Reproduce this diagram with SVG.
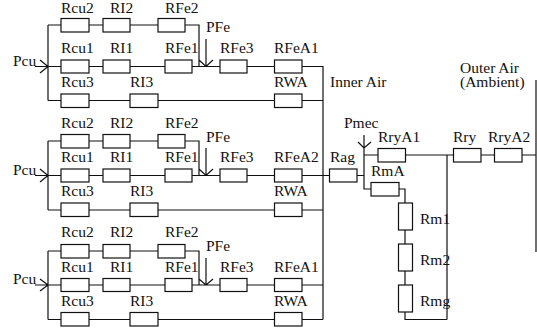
<svg xmlns="http://www.w3.org/2000/svg" width="537" height="329" viewBox="0 0 537 329">
<style>
text{font-family:"Liberation Serif","Times New Roman",serif;font-size:15.5px;fill:#111}
rect{fill:#fff;stroke:#111;stroke-width:1.2}
.w{fill:none;stroke:#111;stroke-width:1.2}
</style>
<rect x="0" y="0" width="537" height="329" style="stroke:none"/>
<g id="connectors" class="w">
<path d="M48 25V100.500M48 25H199V66.500M35 66.500H302M48 100.500H323M199 60L206 66.500L213 60M206 39V66.500M40 60L48 66.500L40 73M302 66.500H323"/>
<path d="M48 141V210M48 141H199V175.500M35 175.500H329M48 210H323M199 169L206 175.500L213 169M206 148V175.500M40 169L48 175.500L40 182"/>
<path d="M48 251V319.500M48 251H199V285M35 285H323M48 319.500H323M199 279L206 285L213 279M206 258V285M40 279L48 285L40 291"/>
<path d="M323 66V319.500M323 66V100.500M357 175.500H364M364 135V189H371M358 142L364 148L371 142M364 155H536M399 189H405V319.500H447M447 155V319.500M536 80V252"/>
</g>
<g id="block1">
<g id="b1-rcu2"><rect x="61" y="18.500" width="28" height="13.500"/><text x="61" y="12.500">Rcu2</text></g>
<g id="b1-ri2"><rect x="103" y="18.500" width="27" height="13.500"/><text x="110" y="12.500">RI2</text></g>
<g id="b1-rfe2"><rect x="158" y="18.500" width="27" height="13.500"/><text x="165" y="12.500">RFe2</text></g>
<g id="b1-rcu1"><rect x="61" y="60" width="28" height="13"/><text x="61" y="53">Rcu1</text></g>
<g id="b1-ri1"><rect x="103" y="60" width="27" height="13"/><text x="110" y="53">RI1</text></g>
<g id="b1-rfe1"><rect x="165" y="60" width="27" height="13"/><text x="165" y="53">RFe1</text></g>
<g id="b1-rfe3"><rect x="220" y="60" width="27" height="13"/><text x="220" y="53">RFe3</text></g>
<g id="b1-rfea1"><rect x="274.500" y="60" width="27.500" height="13"/><text x="274" y="53">RFeA1</text></g>
<g id="b1-rcu3"><rect x="61" y="94" width="28" height="13.500"/><text x="61" y="87">Rcu3</text></g>
<g id="b1-ri3"><rect x="130" y="94" width="28" height="13.500"/><text x="130" y="87">RI3</text></g>
<g id="b1-rwa"><rect x="274.500" y="94" width="27.500" height="13.500"/><text x="274" y="87">RWA</text></g>
<g id="b1-pfe"><text x="206" y="32">PFe</text></g>
<g id="b1-pcu"><text x="13" y="66">Pcu</text></g>
</g>
<g id="block2">
<g id="b2-rcu2"><rect x="61" y="134.500" width="28" height="13.500"/><text x="61" y="128">Rcu2</text></g>
<g id="b2-ri2"><rect x="103" y="134.500" width="27" height="13.500"/><text x="110" y="128">RI2</text></g>
<g id="b2-rfe2"><rect x="158" y="134.500" width="27" height="13.500"/><text x="165" y="128">RFe2</text></g>
<g id="b2-rcu1"><rect x="61" y="169" width="28" height="13"/><text x="61" y="162">Rcu1</text></g>
<g id="b2-ri1"><rect x="103" y="169" width="27" height="13"/><text x="110" y="162">RI1</text></g>
<g id="b2-rfe1"><rect x="165" y="169" width="27" height="13"/><text x="165" y="162">RFe1</text></g>
<g id="b2-rfe3"><rect x="220" y="169" width="27" height="13"/><text x="220" y="162">RFe3</text></g>
<g id="b2-rfea2"><rect x="274.500" y="169" width="27.500" height="13"/><text x="274" y="162">RFeA2</text></g>
<g id="b2-rcu3"><rect x="61" y="203" width="28" height="13.500"/><text x="61" y="196">Rcu3</text></g>
<g id="b2-ri3"><rect x="130" y="203" width="28" height="13.500"/><text x="130" y="196">RI3</text></g>
<g id="b2-rwa"><rect x="274.500" y="203" width="27.500" height="13.500"/><text x="274" y="196">RWA</text></g>
<g id="b2-pfe"><text x="206" y="142">PFe</text></g>
<g id="b2-pcu"><text x="13" y="175">Pcu</text></g>
</g>
<g id="block3">
<g id="b3-rcu2"><rect x="61" y="244.500" width="28" height="13.500"/><text x="61" y="236.500">Rcu2</text></g>
<g id="b3-ri2"><rect x="103" y="244.500" width="27" height="13.500"/><text x="110" y="236.500">RI2</text></g>
<g id="b3-rfe2"><rect x="158" y="244.500" width="27" height="13.500"/><text x="165" y="236.500">RFe2</text></g>
<g id="b3-rcu1"><rect x="61" y="278.500" width="28" height="13"/><text x="61" y="272">Rcu1</text></g>
<g id="b3-ri1"><rect x="103" y="278.500" width="27" height="13"/><text x="110" y="272">RI1</text></g>
<g id="b3-rfe1"><rect x="165" y="278.500" width="27" height="13"/><text x="165" y="272">RFe1</text></g>
<g id="b3-rfe3"><rect x="220" y="278.500" width="27" height="13"/><text x="220" y="272">RFe3</text></g>
<g id="b3-rfea1"><rect x="274.500" y="278.500" width="27.500" height="13"/><text x="274" y="272">RFeA1</text></g>
<g id="b3-rcu3"><rect x="61" y="312.500" width="28" height="13.500"/><text x="61" y="306">Rcu3</text></g>
<g id="b3-ri3"><rect x="130" y="312.500" width="28" height="13.500"/><text x="130" y="306">RI3</text></g>
<g id="b3-rwa"><rect x="274.500" y="312.500" width="27.500" height="13.500"/><text x="274" y="306">RWA</text></g>
<g id="b3-pfe"><text x="206" y="251">PFe</text></g>
<g id="b3-pcu"><text x="13" y="284">Pcu</text></g>
</g>
<g id="inner-air"><text x="330" y="87">Inner Air</text></g>
<g id="outer-air"><text x="460" y="73">Outer Air</text><text x="460" y="87">(Ambient)</text></g>
<g id="pmec"><text x="344" y="128">Pmec</text></g>
<g id="rag"><rect x="329.500" y="169" width="27.500" height="13"/><text x="330" y="162">Rag</text></g>
<g id="rrya1"><rect x="378" y="148.500" width="27.500" height="13.500"/><text x="378" y="142">RryA1</text></g>
<g id="rry"><rect x="453.500" y="148.500" width="27.500" height="13.500"/><text x="453" y="142">Rry</text></g>
<g id="rrya2"><rect x="494.500" y="148.500" width="27.500" height="13.500"/><text x="488" y="142">RryA2</text></g>
<g id="rma"><rect x="371" y="182.500" width="28" height="13.500"/><text x="371" y="176">RmA</text></g>
<g id="rm1"><rect x="398.500" y="203" width="14" height="27"/><text x="420" y="224">Rm1</text></g>
<g id="rm2"><rect x="398.500" y="244" width="14" height="27"/><text x="420" y="265">Rm2</text></g>
<g id="rmg"><rect x="398.500" y="285" width="14" height="27"/><text x="420" y="305.500">Rmg</text></g>
</svg>
